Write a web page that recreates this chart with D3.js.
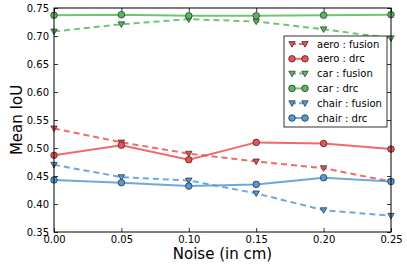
<!DOCTYPE html>
<html>
<head>
<meta charset="utf-8">
<script src="https://cdn.jsdelivr.net/npm/d3@7"></script>
<style>
  body { margin: 0; background: #fff; }
  text { font-family: "DejaVu Sans", sans-serif; }
</style>
</head>
<body>
<script>
// noise levels along x
var noise = [0.00, 0.05, 0.10, 0.15, 0.20, 0.25];

// mean IoU values
var aeroFusion  = [0.535, 0.510, 0.490, 0.476, 0.464, 0.440];
var aeroDrc     = [0.487, 0.505, 0.479, 0.510, 0.508, 0.498];
var carFusion   = [0.708, 0.721, 0.730, 0.726, 0.712, 0.696];
var carDrc      = [0.737, 0.738, 0.736, 0.736, 0.737, 0.738];
var chairFusion = [0.470, 0.448, 0.442, 0.419, 0.389, 0.379];
var chairDrc    = [0.443, 0.438, 0.432, 0.435, 0.447, 0.440];

var xTicks = [0.00, 0.05, 0.10, 0.15, 0.20, 0.25];
var yTicks = [0.35, 0.40, 0.45, 0.50, 0.55, 0.60, 0.65, 0.70, 0.75];

var red = "#ef4f4f", green = "#5cb85c", blue = "#5499d8";

var series = [
  {name: "aero : fusion",  values: aeroFusion,  color: red,   dashed: true,  marker: "tri"},
  {name: "aero : drc",     values: aeroDrc,     color: red,   dashed: false, marker: "circle"},
  {name: "car : fusion",   values: carFusion,   color: green, dashed: true,  marker: "tri"},
  {name: "car : drc",      values: carDrc,      color: green, dashed: false, marker: "circle"},
  {name: "chair : fusion", values: chairFusion, color: blue,  dashed: true,  marker: "tri"},
  {name: "chair : drc",    values: chairDrc,    color: blue,  dashed: false, marker: "circle"}
];

var width = 407, height = 265;
var margin = {left: 54, right: 16, top: 8, bottom: 33};
var plotW = width - margin.left - margin.right;
var plotH = height - margin.top - margin.bottom;

var svg = d3.select("body").append("svg")
  .attr("width", width).attr("height", height);

var x = d3.scaleLinear().domain([0, 0.25]).range([0, plotW]);
var y = d3.scaleLinear().domain([0.35, 0.75]).range([plotH, 0]);

var g = svg.append("g").attr("transform", "translate(" + margin.left + "," + margin.top + ")");

// axes, ticks inward like matplotlib classic
function styleAxis(sel) {
  sel.select(".domain").remove();
  sel.selectAll("line").attr("stroke", "#000").attr("stroke-width", 0.8);
  sel.selectAll("text").attr("font-size", 10).attr("fill", "#000");
}
g.append("g").attr("transform", "translate(0," + plotH + ")")
  .call(d3.axisBottom(x).tickValues(xTicks).tickFormat(d3.format(".2f")).tickSizeInner(-4).tickPadding(4))
  .call(styleAxis);
g.append("g")
  .call(d3.axisTop(x).tickValues(xTicks).tickFormat("").tickSizeInner(-4))
  .call(styleAxis);
g.append("g")
  .call(d3.axisLeft(y).tickValues(yTicks).tickFormat(d3.format(".2f")).tickSizeInner(-4).tickPadding(5))
  .call(styleAxis);
g.append("g").attr("transform", "translate(" + plotW + ",0)")
  .call(d3.axisRight(y).tickValues(yTicks).tickFormat("").tickSizeInner(-4))
  .call(styleAxis);

var line = d3.line().x(function(d, i) { return x(noise[i]); }).y(function(d) { return y(d); });

var triPath = "M-3.2,-2.4L3.2,-2.4L0,3.2Z";

function drawMarker(sel, s) {
  if (s.marker == "tri") {
    sel.append("path").attr("d", triPath)
      .attr("fill", s.color).attr("stroke", "#222").attr("stroke-width", 0.7);
  } else {
    sel.append("circle").attr("r", 3.3)
      .attr("fill", s.color).attr("stroke", "#222").attr("stroke-width", 0.7);
  }
}

var plot = g.append("g");
series.forEach(function(s) {
  plot.append("path").datum(s.values)
    .attr("d", line)
    .attr("fill", "none")
    .attr("stroke", s.color)
    .attr("stroke-opacity", 0.85)
    .attr("stroke-width", 2)
    .attr("stroke-dasharray", s.dashed ? "6,4" : null);
  s.values.forEach(function(v, i) {
    var m = plot.append("g").attr("transform", "translate(" + x(noise[i]) + "," + y(v) + ")");
    drawMarker(m, s);
  });
});

// frame
g.append("rect").attr("width", plotW).attr("height", plotH)
  .attr("fill", "none").attr("stroke", "#000").attr("stroke-width", 1);

// legend
var lg = svg.append("g").attr("transform", "translate(284,36)");
lg.append("rect").attr("width", 103).attr("height", 91)
  .attr("fill", "#fff").attr("stroke", "#000").attr("stroke-width", 0.8);
series.forEach(function(s, i) {
  var row = lg.append("g").attr("transform", "translate(0," + (8 + i * 14.8) + ")");
  row.append("line").attr("x1", 8).attr("x2", 21)
    .attr("stroke", s.color).attr("stroke-width", 2).attr("stroke-opacity", 0.85)
    .attr("stroke-dasharray", s.dashed ? "4,3" : null);
  drawMarker(row.append("g").attr("transform", "translate(8,0)"), s);
  drawMarker(row.append("g").attr("transform", "translate(21,0)"), s);
  row.append("text").attr("x", 33).attr("y", 3.6).attr("font-size", 10).text(s.name);
});

// axis labels
svg.append("text")
  .attr("x", margin.left + plotW / 2).attr("y", 259)
  .attr("text-anchor", "middle").attr("font-size", 15).text("Noise (in cm)");
svg.append("text")
  .attr("transform", "translate(22," + (margin.top + plotH / 2) + ") rotate(-90)")
  .attr("text-anchor", "middle").attr("font-size", 15).text("Mean IoU");
</script>
</body>
</html>
